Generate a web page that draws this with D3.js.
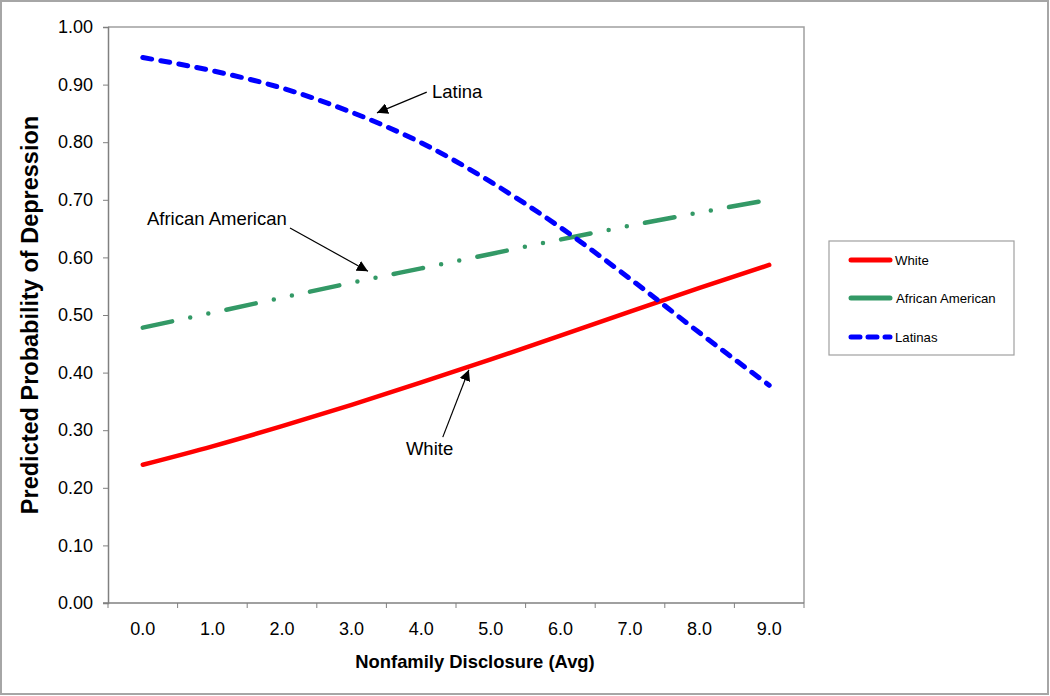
<!DOCTYPE html>
<html><head><meta charset="utf-8">
<script src="https://cdn.jsdelivr.net/npm/d3@7"></script>
<style>
html,body{margin:0;padding:0;background:#fff;}
svg{display:block;font-family:"Liberation Sans",Arial,sans-serif;}
</style></head>
<body>
<svg id="chart" width="1050" height="696"></svg>
<script>
// ---------- data ----------
const categories = ["0.0","1.0","2.0","3.0","4.0","5.0","6.0","7.0","8.0","9.0"];
const whiteVals  = [0.240,0.272,0.307,0.344,0.383,0.423,0.464,0.506,0.547,0.587];
const africanAmericanVals = [0.478,0.504,0.530,0.556,0.581,0.606,0.631,0.655,0.678,0.700];
const latinaVals = [0.947,0.924,0.894,0.852,0.799,0.731,0.652,0.563,0.469,0.378];
const yTicks = [0,0.1,0.2,0.3,0.4,0.5,0.6,0.7,0.8,0.9,1.0];
const seriesNames = ["White","African American","Latinas"];
const annotations = [
  {label:"Latina", tx:4.155, ty:0.877, x1:4.08, y1:0.887, x2:3.365, y2:0.851},
  {label:"African American", tx:0.06, ty:0.656, x1:2.115, y1:0.651, x2:3.235, y2:0.576},
  {label:"White", tx:3.78, ty:0.257, x1:4.31, y1:0.288, x2:4.685, y2:0.405}
];

// ---------- layout ----------
const svg = d3.select("#chart");
const W = 1050, H = 696;
const plot = {left:108, right:804, top:27, bottom:603};

svg.append("rect").attr("x",1).attr("y",1).attr("width",W-3).attr("height",H-3)
  .attr("fill","#fff").attr("stroke","#a6a6a6").attr("stroke-width",2);

const x = d3.scaleBand().domain(categories).range([plot.left, plot.right]).paddingInner(0).paddingOuter(0);
const y = d3.scaleLinear().domain([0,1]).range([plot.bottom, plot.top]);
const xc = i => x(categories[i]) + x.bandwidth()/2;
const xLin = d3.scaleLinear().domain([0, categories.length-1]).range([xc(0), xc(categories.length-1)]);

// plot frame (top & right)
svg.append("path")
  .attr("d", `M${plot.left},${plot.top}H${plot.right}V${plot.bottom}`)
  .attr("fill","none").attr("stroke","#a0a0a0").attr("stroke-width",1.5);

// y axis
const yAxis = d3.axisLeft(y).tickValues(yTicks).tickFormat(d3.format(".2f")).tickSize(5).tickPadding(10);
const gy = svg.append("g").attr("transform",`translate(${plot.left},0)`).call(yAxis);
gy.select(".domain").attr("stroke","#808080").attr("stroke-width",1.5);
gy.selectAll(".tick line").attr("stroke","#808080");
gy.selectAll("text").attr("font-size",18).attr("fill","#000").attr("font-family","Liberation Sans, Arial, sans-serif");

// x axis: category axis with ticks between categories
const gx = svg.append("g").attr("transform",`translate(0,${plot.bottom})`);
gx.append("line").attr("x1",plot.left-5).attr("x2",plot.right).attr("y1",0).attr("y2",0)
  .attr("stroke","#808080").attr("stroke-width",1.5);
const boundaries = d3.range(categories.length+1).map(i => i < categories.length ? x(categories[i]) : plot.right);
gx.selectAll("line.tk").data(boundaries).join("line").attr("class","tk")
  .attr("x1",d=>d).attr("x2",d=>d).attr("y1",0).attr("y2",5).attr("stroke","#808080");
gx.selectAll("text").data(categories).join("text")
  .attr("x",d=>x(d)+x.bandwidth()/2).attr("y",32).attr("text-anchor","middle")
  .attr("font-size",18).attr("fill","#000").text(d=>d);

// axis titles
svg.append("text").attr("x",475).attr("y",668).attr("text-anchor","middle")
  .attr("font-size",18.4).attr("font-weight","bold").text("Nonfamily Disclosure (Avg)");
svg.append("text").attr("transform",`translate(38,${(plot.top+plot.bottom)/2}) rotate(-90)`)
  .attr("text-anchor","middle").attr("font-size",23.5).attr("font-weight","bold")
  .text("Predicted Probability of Depression");

// series
const styles = [
  {vals:whiteVals, color:"#ff0000", width:4.5, dash:null},
  {vals:africanAmericanVals, color:"#339966", width:4.5, dash:"30,18.5,0,18.5,0,18.5"},
  {vals:latinaVals, color:"#0000ff", width:5, dash:"9,9.3"}
];
const line = d3.line().x((d,i)=>xc(i)).y(d=>y(d)).curve(d3.curveMonotoneX);
styles.forEach(s => {
  svg.append("path").datum(s.vals).attr("d",line).attr("fill","none")
    .attr("stroke",s.color).attr("stroke-width",s.width).attr("stroke-linecap","round")
    .attr("stroke-dasharray",s.dash);
});

// annotations
const defs = svg.append("defs");
defs.append("marker").attr("id","arrow").attr("viewBox","0 0 10 10").attr("refX",10).attr("refY",5)
  .attr("markerWidth",11).attr("markerHeight",11).attr("markerUnits","userSpaceOnUse").attr("orient","auto")
  .append("path").attr("d","M0,0L10,5L0,10Z").attr("fill","#000");
annotations.forEach(a => {
  svg.append("line").attr("x1",xLin(a.x1)).attr("y1",y(a.y1)).attr("x2",xLin(a.x2)).attr("y2",y(a.y2))
    .attr("stroke","#000").attr("stroke-width",1.2).attr("marker-end","url(#arrow)");
  svg.append("text").attr("x",xLin(a.tx)).attr("y",y(a.ty)).attr("font-size",18.5).attr("fill","#000").text(a.label);
});

// legend
const lg = svg.append("g");
lg.append("rect").attr("x",829).attr("y",241).attr("width",185).attr("height",114)
  .attr("fill","#fff").attr("stroke","#a0a0a0").attr("stroke-width",1.2);
const legendY = [260,298,337];
const legendDash = [null, null, "9,8"];
seriesNames.forEach((n,i) => {
  lg.append("line").attr("x1",851).attr("x2",890).attr("y1",legendY[i]).attr("y2",legendY[i])
    .attr("stroke",styles[i].color).attr("stroke-width",5).attr("stroke-linecap","round")
    .attr("stroke-dasharray",legendDash[i]);
  lg.append("text").attr("x", i===1 ? 896 : 895).attr("y",legendY[i]+4.5).attr("font-size",13.2).attr("fill","#000").text(n);
});
</script>
</body></html>
